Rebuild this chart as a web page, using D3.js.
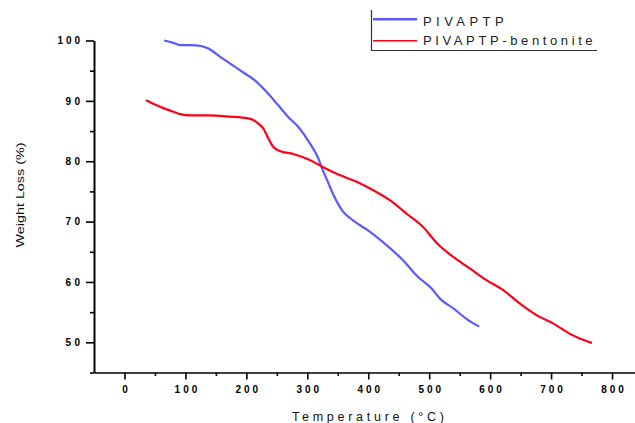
<!DOCTYPE html>
<html>
<head>
<meta charset="utf-8">
<script src="https://cdn.jsdelivr.net/npm/d3@7"></script>
<style>
  body { margin: 0; background: #fff; }
  svg { display: block; font-family: "Liberation Sans", Arial, sans-serif; }
  .axis path, .axis line { stroke: #000; }
  .axis text { font-weight: bold; fill: #000; font-size: 10px; font-family: "Liberation Sans", Arial, sans-serif; }
  .title { fill: #111; }
  .legend text { fill: #222; font-size: 13px; }
</style>
</head>
<body>
<div id="chart"></div>
<script>
// series names (legend order)
const seriesNames = ["PIVAPTP", "PIVAPTP-bentonite"];
const seriesColors = ["#5a5aff", "#ff0018"];

// PIVAPTP
const blueTemp = [65, 80, 91, 118, 137, 157, 173, 195, 214, 233, 252, 269, 285, 304, 318, 325, 332, 343, 359, 375, 403, 430, 457, 480, 504, 518, 540, 561, 582];
const blueWeight = [100, 99.6, 99.25, 99.2, 98.7, 97.3, 96.2, 94.7, 93.4, 91.5, 89.3, 87.3, 85.7, 83.0, 80.5, 78.6, 77.0, 74.4, 71.6, 70.2, 68.3, 66.1, 63.6, 61.0, 58.9, 57.2, 55.6, 53.9, 52.6];

// PIVAPTP-bentonite
const redTemp = [35, 50, 64, 80, 91, 110, 135, 173, 203, 212, 220, 228, 236, 244, 255, 277, 304, 326, 353, 381, 408, 436, 463, 490, 512, 540, 567, 594, 622, 649, 676, 704, 731, 748, 767];
const redWeight = [90.1, 89.4, 88.8, 88.2, 87.8, 87.6, 87.6, 87.4, 87.1, 86.8, 86.2, 85.4, 83.8, 82.4, 81.7, 81.2, 80.2, 79.0, 77.7, 76.6, 75.2, 73.5, 71.3, 69.1, 66.5, 64.1, 62.2, 60.3, 58.6, 56.4, 54.5, 53.1, 51.4, 50.6, 49.9];

// ticks
const xMajorTicks = [0, 100, 200, 300, 400, 500, 600, 700, 800];
const xMinorTicks = [50, 150, 250, 350, 450, 550, 650, 750];
const yMajorTicks = [50, 60, 70, 80, 90, 100];
const yMinorTicks = [45, 55, 65, 75, 85, 95];

const xTitle = "Temperature (\u00B0C)";
const yTitle = "Weight Loss (%)";

const width = 635, height = 423;

const svg = d3.select("#chart").append("svg")
  .attr("width", width)
  .attr("height", height);

const x = d3.scaleLinear().domain([-50, 850]).range([94, 642.5]);
const y = d3.scaleLinear().domain([45, 100]).range([372.5, 40.5]);

// labels in the picture are letter-spaced, so fit them to a length
function spreadLabels(sel) {
  sel.selectAll("text")
    .attr("lengthAdjust", "spacing")
    .attr("textLength", function() { return 8.2 * this.textContent.length - 2; });
}

// x axis
const gx = svg.append("g")
  .attr("class", "axis")
  .attr("transform", `translate(0,${y(45)})`)
  .call(d3.axisBottom(x).tickValues(xMajorTicks).tickSize(7).tickPadding(6).tickSizeOuter(0));
gx.select(".domain").attr("stroke-width", 1.6);
gx.selectAll(".tick line").attr("stroke-width", 1.6);
spreadLabels(gx);

svg.append("g")
  .attr("class", "axis")
  .attr("transform", `translate(0,${y(45)})`)
  .call(d3.axisBottom(x).tickValues(xMinorTicks).tickSize(3.5).tickFormat(""))
  .call(g => g.select(".domain").remove())
  .selectAll(".tick line").attr("stroke-width", 1.6);

// y axis
const gy = svg.append("g")
  .attr("class", "axis")
  .attr("transform", `translate(${x(-50)},0)`)
  .call(d3.axisLeft(y).tickValues(yMajorTicks).tickSize(8).tickPadding(6).tickSizeOuter(0));
gy.select(".domain").attr("stroke-width", 2);
gy.selectAll(".tick line").attr("stroke-width", 1.6);
spreadLabels(gy);

svg.append("g")
  .attr("class", "axis")
  .attr("transform", `translate(${x(-50)},0)`)
  .call(d3.axisLeft(y).tickValues(yMinorTicks).tickSize(4).tickFormat(""))
  .call(g => g.select(".domain").remove())
  .selectAll(".tick line").attr("stroke-width", 1.6);

// axis titles
svg.append("text")
  .attr("class", "title")
  .attr("x", 368)
  .attr("y", 421)
  .attr("text-anchor", "middle")
  .attr("font-size", 12.5)
  .attr("textLength", 152)
  .attr("lengthAdjust", "spacing")
  .text(xTitle);

svg.append("text")
  .attr("class", "title")
  .attr("transform", "translate(23.5,195) rotate(-90)")
  .attr("text-anchor", "middle")
  .attr("font-size", 11)
  .attr("textLength", 105)
  .attr("lengthAdjust", "spacingAndGlyphs")
  .text(yTitle);

// curves
const series = [
  { name: seriesNames[0], color: seriesColors[0], width: 2.2, values: blueTemp.map((t, i) => [t, blueWeight[i]]) },
  { name: seriesNames[1], color: seriesColors[1], width: 2.2, values: redTemp.map((t, i) => [t, redWeight[i]]) }
];

const line = d3.line()
  .curve(d3.curveMonotoneX)
  .x(d => x(d[0]))
  .y(d => y(d[1]));

svg.selectAll(".curve")
  .data(series)
  .enter().append("path")
    .attr("class", "curve")
    .attr("fill", "none")
    .attr("stroke", d => d.color)
    .attr("stroke-width", d => d.width)
    .attr("stroke-linejoin", "round")
    .attr("d", d => line(d.values));

// legend: only left and bottom edges of the frame show
const legend = svg.append("g").attr("class", "legend");

legend.append("path")
  .attr("d", "M371.5,10V50.5H597")
  .attr("fill", "none")
  .attr("stroke", "#333")
  .attr("stroke-width", 1.2);

const legendRows = [
  { y: 19.3, base: 26, len: 80.6, lw: 2.5 },
  { y: 40.7, base: 44.5, len: 169.6, lw: 1.6 }
];

legend.selectAll(".item")
  .data(series)
  .enter().append("g")
    .attr("class", "item")
    .each(function(d, i) {
      let self = d3.select(this);
      let row = legendRows[i];

      self.append("line")
        .attr("x1", 373).attr("x2", 417)
        .attr("y1", row.y).attr("y2", row.y)
        .attr("stroke", d.color)
        .attr("stroke-width", row.lw);

      self.append("text")
        .attr("x", 423)
        .attr("y", row.base)
        .attr("textLength", row.len)
        .attr("lengthAdjust", "spacing")
        .text(d.name);
    });
</script>
</body>
</html>
